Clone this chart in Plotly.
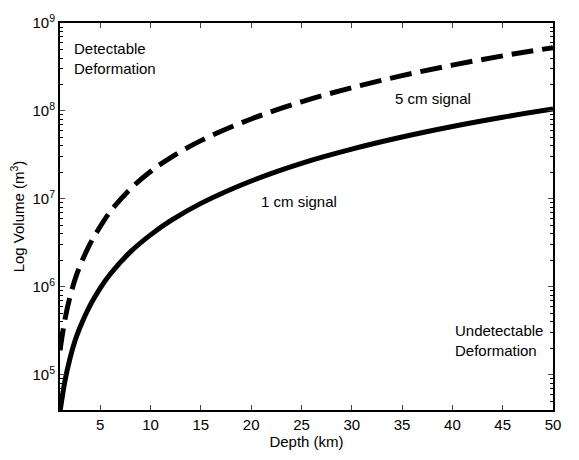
import plotly.graph_objects as go

depth = [1, 1.5, 2, 2.5, 3, 4, 5, 6, 8, 10, 12, 15, 20, 25, 30, 35, 40, 45, 50]
vol_1cm = [3.8e4, 8.6e4, 1.55e5, 2.45e5, 3.5e5, 6.2e5, 9.7e5, 1.4e6, 2.5e6, 3.9e6,
           5.65e6, 8.9e6, 1.6e7, 2.54e7, 3.68e7, 5.05e7, 6.65e7, 8.47e7, 1.05e8]
vol_5cm = [1.9e5, 4.3e5, 7.75e5, 1.22e6, 1.75e6, 3.1e6, 4.85e6, 7.2e6, 1.3e7, 2.05e7,
           2.95e7, 4.6e7, 8.1e7, 1.27e8, 1.84e8, 2.52e8, 3.32e8, 4.23e8, 5.25e8]
x_ticks = [5, 10, 15, 20, 25, 30, 35, 40, 45, 50]
y_ticks = [1e5, 1e6, 1e7, 1e8, 1e9]
y_ticktext = ["10<sup>5</sup>", "10<sup>6</sup>", "10<sup>7</sup>", "10<sup>8</sup>", "10<sup>9</sup>"]
y_minor = [m * 10 ** e for e in range(4, 9) for m in range(2, 10) if m * 10 ** e > 4e4]

FONT = "Liberation Sans, Arial, sans-serif"
FS = 15

fig = go.Figure()
fig.add_trace(go.Scatter(x=depth, y=vol_5cm, mode="lines", line=dict(color="black", width=5, dash="22px,9px"), line_shape="spline"))
fig.add_trace(go.Scatter(x=depth, y=vol_1cm, mode="lines", line=dict(color="black", width=5), line_shape="spline"))

anns = [
    dict(x=2.19, y=8.60, text="Detectable<br>Deformation", xanchor="left"),
    dict(x=38.1, y=8.136, text="5 cm signal", xanchor="center"),
    dict(x=24.76, y=6.965, text="1 cm signal", xanchor="center"),
    dict(x=40.1, y=5.39, text="Undetectable<br>Deformation", xanchor="left"),
]
for a in anns:
    fig.add_annotation(x=a["x"], y=a["y"], text=a["text"], xanchor=a["xanchor"], yanchor="middle",
                       showarrow=False, align="left", font=dict(family=FONT, size=FS, color="black"))

fig.update_layout(
    width=579, height=460,
    margin=dict(l=60, r=26, t=17, b=41),
    plot_bgcolor="white", paper_bgcolor="white",
    showlegend=False,
    font=dict(family=FONT, size=FS, color="black"),
)
fig.update_xaxes(range=[1, 50], tickvals=x_ticks, ticks="inside", ticklen=5, tickwidth=1,
                 showline=True, linecolor="black", linewidth=2, mirror="ticks", showgrid=False,
                 zeroline=False, title=dict(text="Depth (km)", standoff=4, font=dict(size=FS)),
                 tickfont=dict(size=FS))
fig.update_yaxes(type="log", range=[4.6, 9], tickvals=y_ticks, ticktext=y_ticktext,
                 ticks="inside", ticklen=5, tickwidth=1,
                 showline=True, linecolor="black", linewidth=2, mirror="ticks", showgrid=False,
                 zeroline=False, title=dict(text="Log Volume (m<sup>3</sup>)", standoff=4, font=dict(size=FS)),
                 tickfont=dict(size=FS),
                 minor=dict(tickvals=y_minor, ticks="inside", ticklen=3, tickwidth=1, tickcolor="black", showgrid=False))

fig.write_html("out.html")
